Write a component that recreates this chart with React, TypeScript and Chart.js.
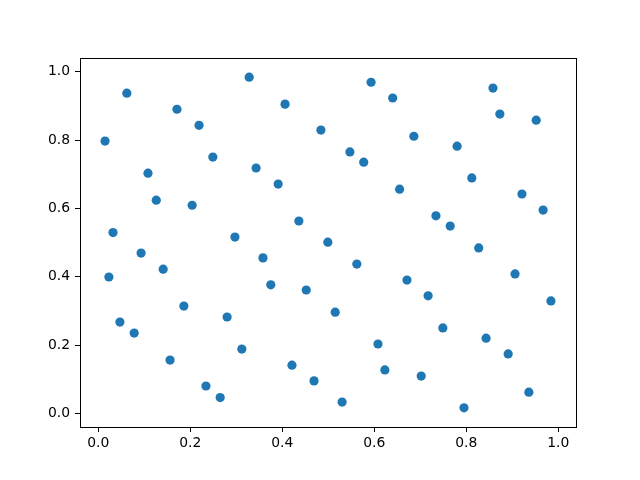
import React, { useEffect, useRef } from "react";
import { Chart, registerables } from "chart.js";

Chart.register(...registerables);

const xValues: number[] = [
  0.0146, 0.062, 0.023, 0.032, 0.047, 0.078, 0.108, 0.093, 0.126, 0.141,
  0.156, 0.171, 0.186, 0.204, 0.219, 0.234, 0.249, 0.265, 0.28, 0.297,
  0.312, 0.328, 0.343, 0.358, 0.375, 0.391, 0.406, 0.421, 0.436, 0.452,
  0.469, 0.484, 0.499, 0.515, 0.53, 0.547, 0.562, 0.577, 0.593, 0.608,
  0.623, 0.64, 0.655, 0.671, 0.686, 0.702, 0.717, 0.734, 0.749, 0.765,
  0.78, 0.795, 0.812, 0.827, 0.843, 0.858, 0.873, 0.891, 0.906, 0.921,
  0.936, 0.952, 0.967, 0.984,
];

const yValues: number[] = [
  0.797, 0.937, 0.399, 0.529, 0.267, 0.235, 0.703, 0.469, 0.624, 0.422,
  0.156, 0.89, 0.314, 0.609, 0.843, 0.08, 0.75, 0.046, 0.282, 0.516,
  0.188, 0.984, 0.718, 0.455, 0.376, 0.671, 0.905, 0.141, 0.563, 0.361,
  0.095, 0.829, 0.501, 0.296, 0.033, 0.765, 0.437, 0.735, 0.969, 0.203,
  0.127, 0.923, 0.656, 0.39, 0.811, 0.109, 0.344, 0.578, 0.25, 0.548,
  0.782, 0.016, 0.689, 0.484, 0.22, 0.952, 0.876, 0.174, 0.408, 0.642,
  0.062, 0.858, 0.595, 0.329,
];

const xTicks: number[] = [0, 0.2, 0.4, 0.6, 0.8, 1.0];
const yTicks: number[] = [0, 0.2, 0.4, 0.6, 0.8, 1.0];

const framePlugin = {
  id: "frame",
  afterDraw(chart: any) {
    const { ctx, chartArea } = chart;
    ctx.save();
    ctx.strokeStyle = "#000";
    ctx.lineWidth = 1;
    ctx.strokeRect(
      Math.round(chartArea.left) + 0.5,
      Math.round(chartArea.top) + 0.5,
      Math.round(chartArea.right - chartArea.left),
      Math.round(chartArea.bottom - chartArea.top)
    );
    ctx.restore();
  },
};

export default function App() {
  const ref = useRef<HTMLCanvasElement | null>(null);

  useEffect(() => {
    document.body.style.margin = "0";
    const canvas = ref.current;
    if (!canvas) return;
    const data = xValues.map((x, i) => ({ x, y: yValues[i] }));
    const font = { family: "DejaVu Sans", size: 13.9 };
    const chart = new Chart(canvas, {
      type: "scatter",
      data: {
        datasets: [
          {
            data,
            backgroundColor: "#1f77b4",
            borderColor: "#1f77b4",
            borderWidth: 0,
            pointRadius: 4.6,
            pointHoverRadius: 4.6,
          },
        ],
      },
      options: {
        responsive: false,
        animation: false,
        devicePixelRatio: 1,
        layout: { padding: { left: 0, top: 58, right: 64, bottom: 0 } },
        plugins: { legend: { display: false }, tooltip: { enabled: false } },
        scales: {
          x: {
            type: "linear",
            min: -0.0398,
            max: 1.0385,
            afterBuildTicks: (scale: any) => {
              scale.ticks = xTicks.map((v) => ({ value: v }));
            },
            afterFit: (scale: any) => {
              scale.height = 53;
            },
            grid: {
              drawOnChartArea: false,
              drawTicks: true,
              tickLength: 5,
              color: "#000",
            },
            border: { display: true, color: "#000" },
            ticks: {
              color: "#000",
              font,
              padding: 3,
              maxRotation: 0,
              callback: (v: any) => Number(v).toFixed(1),
            },
          },
          y: {
            type: "linear",
            min: -0.040,
            max: 1.040,
            afterBuildTicks: (scale: any) => {
              scale.ticks = yTicks.map((v) => ({ value: v }));
            },
            afterFit: (scale: any) => {
              scale.width = 80;
            },
            grid: {
              drawOnChartArea: false,
              drawTicks: true,
              tickLength: 5,
              color: "#000",
            },
            border: { display: true, color: "#000" },
            ticks: {
              color: "#000",
              font,
              padding: 5,
              callback: (v: any) => Number(v).toFixed(1),
            },
          },
        },
      },
      plugins: [framePlugin],
    });
    return () => chart.destroy();
  }, []);

  return (
    <div style={{ position: "absolute", left: 0, top: 0, width: 640, height: 480, background: "#fff" }}>
      <canvas ref={ref} width={640} height={480} />
    </div>
  );
}
